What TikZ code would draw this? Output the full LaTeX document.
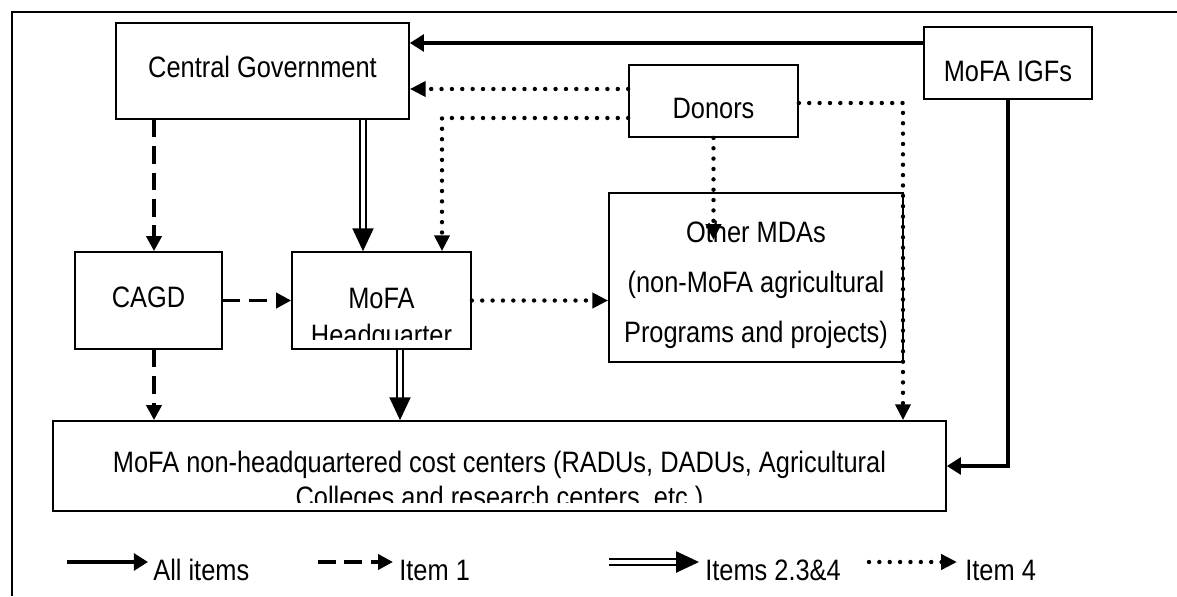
\documentclass[tikz,border=0pt]{standalone}
\usepackage{fontspec}
\setmainfont{Liberation Sans}[FakeStretch=0.86]
\usepackage{tikz}
\usetikzlibrary{arrows.meta,calc,positioning}

\tikzset{
  box/.style 2 args={draw, line width=1pt, inner sep=0pt,
    minimum width=#1, minimum height=#2},
  txt/.style={inner sep=0pt, anchor=base},
  allitems/.style={line width=2.1pt, -{Triangle[width=9.5pt,length=8pt]}},
  itemone/.style={line width=2.1pt, dash pattern=on 10pt off 5pt,
    -{Triangle[width=8.5pt,length=8.5pt]}},
  itemtwo/.style={double, line width=1pt, double distance=2pt,
    -{Triangle[width=12pt,length=13pt]}},
  itemfour/.style={line width=2.5pt, line cap=round, dash pattern=on 0pt off 5.9pt,
    -{Triangle[width=8.5pt,length=9pt]}}
}

\begin{document}
\begin{tikzpicture}[x=0.02cm, y=-0.02cm, font=\fontsize{16.8}{20}\selectfont]
  \useasboundingbox (0,0) rectangle (1177,596);
  \draw[line width=0.9pt] (1177,12) -- (12,12) -- (12,596);

  % boxes
  \node[box={5.86cm}{1.92cm}] (cg) at (262.5,71) {};
  \node[box={3.36cm}{1.44cm}] (igf) at (1008,63) {};
  \node[box={3.38cm}{1.44cm}] (donors) at (713.5,101) {};
  \node[box={5.88cm}{3.38cm}] (mda) at (756,277.5) {};
  \node[box={2.94cm}{1.94cm}] (cagd) at (148.5,300.5) {};
  \node[box={3.58cm}{1.94cm}] (hq) at (381.5,300.5) {};
  \node[box={17.86cm}{1.8cm}] (bottom) at (499.5,466) {};

  \node[txt] (cgtext) at (262.5,77) {Central Government};
  \node[txt] (igftext) at (1008,81) {MoFA IGFs};
  \node[txt] (donorstext) at (713.5,118) {Donors};
  \node[txt] (mdatext) at (756,242) {Other MDAs};
  \node[txt] (mdatextb) at (756,292) {(non-MoFA agricultural};
  \node[txt] (mdatextc) at (756,342) {Programs and projects)};
  \node[txt] (cagdtext) at (148.5,307) {CAGD};
  \begin{scope}
    \clip (hq.north west) rectangle (471,339);
    \node[txt] (hqtext) at (381.5,308) {MoFA};
    \node[txt] (hqtextb) at (381.5,345) {Headquarter};
  \end{scope}
  \begin{scope}
    \clip (bottom.north west) rectangle (946,502);
    \node[txt] (bottomtext) at (499.5,472) {MoFA non-headquartered cost centers (RADUs, DADUs, Agricultural};
    \node[txt] (bottomtextb) at (499.5,507) {Colleges and research centers, etc.)};
  \end{scope}

  % connectors
  \coordinate (r1) at (0,43);
  \coordinate (r2) at (0,89);
  \coordinate (r3) at (442,118);
  \coordinate (r4) at (714,240);
  \coordinate (r5) at (903,103);
  \coordinate (c1) at (154,0);
  \coordinate (c2) at (363,0);
  \coordinate (c3) at (400,0);
  \draw[allitems] (igf.west |- r1) -- (cg.east |- r1);
  \draw[itemfour] (donors.west |- r2) -- (cg.east |- r2);
  \draw[itemfour] (donors.west |- r3) -| (hq.north -| r3);
  \draw[itemfour] (donors.south) -- (donors.south |- r4);
  \draw[itemfour] (donors.east |- r5) -| (bottom.north -| r5);
  \draw[itemone] (cg.south -| c1) -- (cagd.north -| c1);
  \draw[itemtwo] (cg.south -| c2) -- (hq.north -| c2);
  \draw[itemone] (cagd) -- (hq);
  \draw[itemfour] (hq.east) -- (mda.west |- hq.east);
  \draw[itemone] (cagd.south -| c1) -- (bottom.north -| c1);
  \draw[itemtwo] (hq.south -| c3) -- (bottom.north -| c3);
  \draw[allitems] (igf.south) |- (bottom.east);

  % legend
  \coordinate (la) at (67,562);  \coordinate (lb) at (148,562);
  \coordinate (lc) at (318,562); \coordinate (ld) at (393,562);
  \coordinate (le) at (609,562); \coordinate (lf) at (699,562);
  \coordinate (lg) at (869,562); \coordinate (lh) at (957,562);
  \draw[allitems] (la) -- (lb);
  \draw[itemone] (lc) -- (ld);
  \draw[itemtwo] (le) -- (lf);
  \draw[itemfour] (lg) -- (lh);
  \node[txt, anchor=base west] (legall) at (153,580) {All items};
  \node[txt, anchor=base west] (legone) at (399,580) {Item 1};
  \node[txt, anchor=base west] (legtwo) at (705,580) {Items 2.3\&4};
  \node[txt, anchor=base west] (legfour) at (965,580) {Item 4};
\end{tikzpicture}
\end{document}
